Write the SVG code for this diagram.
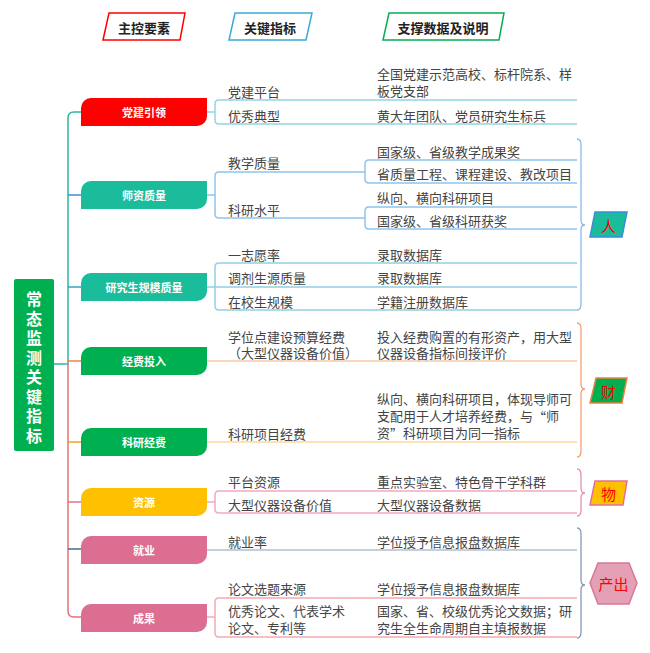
<svg xmlns="http://www.w3.org/2000/svg" width="650" height="653" viewBox="0 0 650 653">
<style>
text{font-family:"Noto Sans CJK SC","Noto Sans",sans-serif;dominant-baseline:central}
.hd{font-size:13px;font-weight:bold;fill:#222;text-anchor:middle}
.mn{font-size:11px;font-weight:bold;fill:#fff;text-anchor:middle}
.t{font-size:13px;fill:#444}
.m{font-family:"Liberation Sans","Noto Sans CJK SC",sans-serif}
.cj{font-family:"Noto Sans CJK SC",sans-serif}
.rt{font-size:16px;font-weight:bold;fill:#fff;writing-mode:vertical-rl;letter-spacing:3.5px}
.tag{font-size:15px;fill:#f00;text-anchor:middle}
.ln{fill:none;stroke-width:1.5}
.br{fill:none;stroke-width:1.3}
</style>
<defs>
<path id="nshape" d="M91,0 H126 V18 A10,10 0 0 1 116,28 H0 V10 A10,10 0 0 1 10,0 Z" transform="translate(-10,0)"/>
</defs>
<rect width="650" height="653" fill="#fff"/>

<g id="headers">
<polygon points="109,13 185,13 180,40 103,40" fill="#fff" stroke="#f00" stroke-width="1.5"/>
<text class="hd" x="144" y="27">主控要素</text>
<polygon points="235,13 312,13 306,40 229,40" fill="#fff" stroke="#3aaad8" stroke-width="1.5"/>
<text class="hd" x="270" y="27">关键指标</text>
<polygon points="389,13 504,13 499,40 383,40" fill="#fff" stroke="#00b050" stroke-width="1.5"/>
<text class="hd" x="443" y="27">支撑数据及说明</text>
</g>

<g id="connectors">
<path class="ln" stroke="#2bb8a0" d="M54,364 H68 V118 Q68,112 74,112 H81"/>
<path class="ln" stroke="#e8707a" d="M68,364 V611 Q68,617 74,617 H81"/>
<path class="ln" stroke="#3a8fd8" d="M68,195 H81"/>
<path class="ln" stroke="#3aa0c0" d="M68,287 H81"/>
<path class="ln" stroke="#f08040" d="M68,361 H81"/>
<path class="ln" stroke="#f5a020" d="M68,442 H81"/>
<path class="ln" stroke="#e8708a" d="M68,502 H81"/>
<path class="ln" stroke="#4a6a90" d="M68,549 H81"/>

<path class="ln" stroke="#93d5e5" d="M207,112 H215 M577,100 H219 Q215,100 215,104 V120 Q215,124 219,124 H577"/>
<path class="ln" stroke="#8ec3ee" d="M207,195 H215 M365,172 H219 Q215,172 215,176 V214 Q215,218 219,218 H365 M577,160 H369 Q365,160 365,164 V179 Q365,183 369,183 H577 M577,207 H369 Q365,207 365,211 V225 Q365,229 369,229 H577"/>
<path class="ln" stroke="#93cfe3" d="M207,287 H577 M577,263 H219 Q215,263 215,267 V306 Q215,310 219,310 H577"/>
<path class="ln" stroke="#f8c8a8" d="M207,361 H577"/>
<path class="ln" stroke="#fbd9a0" d="M207,442 H577"/>
<path class="ln" stroke="#f2a8c0" d="M207,502 H215 M577,491 H219 Q215,491 215,495 V509 Q215,513 219,513 H577"/>
<path class="ln" stroke="#b0bed0" d="M207,550 H577"/>
<path class="ln" stroke="#f4aab4" d="M207,617 H215 M577,598 H219 Q215,598 215,602 V633 Q215,637 219,637 H577"/>

<path class="br" stroke="#8db8e8" d="M577,139 Q581,139 581,145 V220 Q581,225 585,225 Q581,225 581,230 V304 Q581,310 577,310"/>
<path class="br" stroke="#f4a070" d="M577,323 Q581,323 581,329 V384 Q581,389 585,389 Q581,389 581,394 V451 Q581,457 577,457"/>
<path class="br" stroke="#e890b0" d="M577,469 Q581,469 581,475 V488 Q581,493 585,493 Q581,493 581,498 V510 Q581,516 577,516"/>
<path class="br" stroke="#8898b8" d="M577,528 Q581,528 581,534 V580 Q581,585 585,585 Q581,585 581,590 V632 Q581,638 577,638"/>
</g>

<g id="root">
<rect x="14" y="279" width="40" height="172" rx="2" fill="#00b050"/>
<text class="rt" x="34" y="291">常态监测关键指标</text>
</g>

<g id="n-dangjian"><use href="#nshape" x="91" y="98" fill="#ff0000"/><text class="mn" x="144" y="112">党建引领</text></g>
<g id="n-shizi"><use href="#nshape" x="91" y="181" fill="#1abc9c"/><text class="mn" x="144" y="195">师资质量</text></g>
<g id="n-yanjiusheng"><use href="#nshape" x="91" y="273" fill="#1abc9c"/><text class="mn" x="144" y="287">研究生规模质量</text></g>
<g id="n-jingfei"><use href="#nshape" x="91" y="347" fill="#00b050"/><text class="mn" x="144" y="361">经费投入</text></g>
<g id="n-keyan"><use href="#nshape" x="91" y="428" fill="#00b050"/><text class="mn" x="144" y="442">科研经费</text></g>
<g id="n-ziyuan"><use href="#nshape" x="91" y="488" fill="#ffc000"/><text class="mn" x="144" y="502">资源</text></g>
<g id="n-jiuye"><use href="#nshape" x="91" y="536" fill="#dc6e91"/><text class="mn" x="144" y="550">就业</text></g>
<g id="n-chengguo"><use href="#nshape" x="91" y="604" fill="#dc6e91"/><text class="mn" x="144" y="618">成果</text></g>

<g id="indicators">
<text class="t" x="228" y="91">党建平台</text>
<text class="t" x="228" y="115">优秀典型</text>
<text class="t" x="228" y="162">教学质量</text>
<text class="t" x="228" y="209">科研水平</text>
<text class="t" x="228" y="254">一志愿率</text>
<text class="t" x="228" y="277">调剂生源质量</text>
<text class="t" x="228" y="301">在校生规模</text>
<text class="t m" x="228" y="337">学位点建设预算经费<tspan x="228" dy="16">（大型仪器设备价值）</tspan></text>
<text class="t" x="228" y="433">科研项目经费</text>
<text class="t" x="228" y="481">平台资源</text>
<text class="t" x="228" y="504">大型仪器设备价值</text>
<text class="t" x="228" y="541">就业率</text>
<text class="t" x="228" y="588">论文选题来源</text>
<text class="t m" x="228" y="611">优秀论文、代表学术<tspan x="228" dy="17">论文、专利等</tspan></text>
</g>

<g id="data">
<text class="t m" x="377" y="74">全国党建示范高校、标杆院系、样<tspan x="377" dy="17">板党支部</tspan></text>
<text class="t" x="377" y="115">黄大年团队、党员研究生标兵</text>
<text class="t" x="377" y="151">国家级、省级教学成果奖</text>
<text class="t" x="377" y="173">省质量工程、课程建设、教改项目</text>
<text class="t" x="377" y="197">纵向、横向科研项目</text>
<text class="t" x="377" y="220">国家级、省级科研获奖</text>
<text class="t" x="377" y="254">录取数据库</text>
<text class="t" x="377" y="277">录取数据库</text>
<text class="t" x="377" y="301">学籍注册数据库</text>
<text class="t m" x="377" y="337">投入经费购置的有形资产，用大型<tspan x="377" dy="16">仪器设备指标间接评价</tspan></text>
<text class="t m" x="377" y="399">纵向、横向科研项目，体现导师可<tspan x="377" dy="17">支配用于人才培养经费，与<tspan class="cj">“</tspan>师</tspan><tspan x="377" dy="17">资<tspan class="cj">”</tspan>科研项目为同一指标</tspan></text>
<text class="t" x="377" y="481">重点实验室、特色骨干学科群</text>
<text class="t" x="377" y="504">大型仪器设备数据</text>
<text class="t" x="377" y="541">学位授予信息报盘数据库</text>
<text class="t" x="377" y="588">学位授予信息报盘数据库</text>
<text class="t m" x="377" y="611">国家、省、校级优秀论文数据；研<tspan x="377" dy="17">究生全生命周期自主填报数据</tspan></text>
</g>

<g id="tag-ren"><polygon points="595,212 627,212 622,237 590,237" fill="#1abc9c" stroke="#3a8fd8" stroke-width="1.5"/><text class="tag" x="608.5" y="225">人</text></g>
<g id="tag-cai"><polygon points="596,378 627,378 622,403 590,403" fill="#00b050" stroke="#f08040" stroke-width="1.5"/><text class="tag" x="608.5" y="391">财</text></g>
<g id="tag-wu"><polygon points="595,481 627,481 623,505 590,505" fill="#ffc000" stroke="#e070a0" stroke-width="1.5"/><text class="tag" x="608.5" y="493">物</text></g>
<g id="tag-chanchu"><polygon points="590,583 598,563 629,563 637,583 629,604 598,604" fill="#e4a0b4" stroke="#d87898" stroke-width="1.5"/><text class="tag" x="613.5" y="583">产出</text></g>
</svg>
